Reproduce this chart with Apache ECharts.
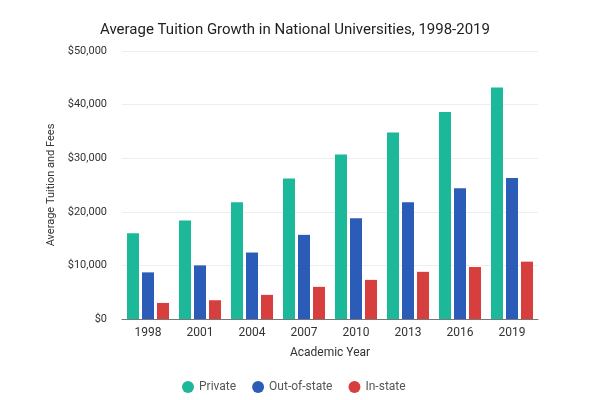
<!DOCTYPE html>
<html><head><meta charset="utf-8">
<script src="https://cdn.jsdelivr.net/npm/echarts@6/dist/echarts.min.js"></script>
<style>html,body{margin:0;padding:0;background:#fff}#c{width:600px;height:400px}</style>
</head><body><div id="c"></div>
<script>
const years = ['1998','2001','2004','2007','2010','2013','2016','2019'];
const privateVals = [16000, 18400, 21800, 26200, 30700, 34800, 38600, 43200];
const outOfStateVals = [8700, 10000, 12400, 15700, 18800, 21800, 24400, 26300];
const inStateVals = [3000, 3500, 4500, 6000, 7300, 8800, 9700, 10700];
const seriesNames = ['Private', 'Out-of-state', 'In-state'];
const colors = ['#1bb99a', '#2b5cb8', '#d73f3f'];

const chart = echarts.init(document.getElementById('c'));
const font = 'Roboto, "Noto Sans", sans-serif';
chart.setOption({
  animation: false,
  color: colors,
  title: {
    text: 'Average Tuition Growth in National Universities, 1998-2019',
    left: 290, top: 18, textAlign: 'center',
    textStyle: {fontFamily: font, fontSize: 15, fontWeight: 'normal', color: '#222'}
  },
  legend: {
    bottom: 2, left: 177, icon: 'circle', itemWidth: 12, itemHeight: 12, itemGap: 16,
    textStyle: {fontFamily: font, fontSize: 12, color: '#555'},
    data: seriesNames
  },
  grid: {left: 122, right: 62, top: 51, bottom: 81},
  xAxis: {
    type: 'category', data: years,
    name: 'Academic Year', nameLocation: 'middle', nameGap: 28,
    nameTextStyle: {fontFamily: font, fontSize: 12, color: '#333'},
    axisLine: {lineStyle: {color: '#777'}},
    axisTick: {alignWithLabel: true, length: 5, lineStyle: {color: '#777'}},
    axisLabel: {fontFamily: font, fontSize: 12, color: '#333', margin: 8}
  },
  yAxis: {
    type: 'value', min: 0, max: 50000, interval: 10000,
    name: 'Average Tuition and Fees', nameLocation: 'middle', nameGap: 60, nameRotate: 90,
    nameTextStyle: {fontFamily: font, fontSize: 11, color: '#333'},
    axisLabel: {fontFamily: font, fontSize: 11, color: '#333', margin: 15,
      formatter: v => '$' + v.toLocaleString('en-US')},
    splitLine: {lineStyle: {color: '#eee'}}
  },
  series: [
    {name: seriesNames[0], type: 'bar', data: privateVals, barWidth: 12, barGap: '25%'},
    {name: seriesNames[1], type: 'bar', data: outOfStateVals, barWidth: 12, barGap: '25%'},
    {name: seriesNames[2], type: 'bar', data: inStateVals, barWidth: 12, barGap: '25%'}
  ]
});
</script></body></html>
